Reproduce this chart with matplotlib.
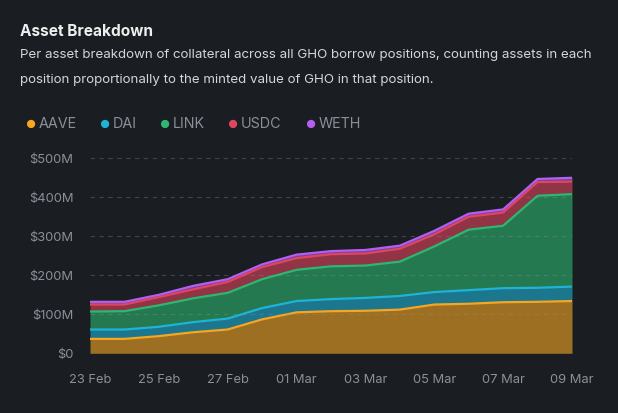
import matplotlib.pyplot as plt
import numpy as np

# dados (valores em milhões de USD por ativo)
dias = ['23 Feb', '24 Feb', '25 Feb', '26 Feb', '27 Feb', '28 Feb', '01 Mar', '02 Mar',
        '03 Mar', '04 Mar', '05 Mar', '06 Mar', '07 Mar', '08 Mar', '09 Mar']
aave = [37, 37, 44, 54, 61, 87, 105, 108, 109, 112, 125, 127, 131, 132, 134]
dai = [24, 24, 24, 26, 28, 29, 29, 31, 33, 35, 32, 35, 36, 36, 37]
link = [46, 47, 55, 61, 66, 74, 80, 84, 83, 88, 117, 155, 160, 236, 237]
usdc = [18, 17, 21, 23, 28, 31, 30, 31, 31, 33, 31, 33, 34, 35, 32]
weth = [7, 7, 6, 9, 7, 7, 9, 8, 9, 8, 9, 8, 8, 8, 10]

nomes = ['AAVE', 'DAI', 'LINK', 'USDC', 'WETH']
cores = ['#f5a623', '#1fb3d6', '#2db872', '#e0445f', '#b45ef2']

bg = '#1a1d21'
plt.rcParams['font.family'] = ['Inter', 'DejaVu Sans']
fig = plt.figure(figsize=(6.18, 4.13), dpi=100, facecolor=bg)

ax = fig.add_axes([90 / 618, 59.7 / 413, 482 / 618, 195 / 413])
ax.set_facecolor(bg)

x = np.arange(len(dias))
series = [aave, dai, link, usdc, weth]
base = np.zeros(len(dias))
for vals, cor in zip(series, cores):
    topo = base + np.array(vals)
    ax.fill_between(x, base, topo, color=cor, alpha=0.6, linewidth=0, zorder=2)
    ax.plot(x, topo, color=cor, linewidth=1.6, zorder=3)
    base = topo

# grade tracejada por cima das áreas
for v in range(0, 501, 100):
    ax.axhline(v, color='#8a9099', alpha=0.35, linewidth=0.8, linestyle=(0, (4, 4)), zorder=4)

ax.set_xlim(0, 14)
ax.set_ylim(0, 500)
ax.set_yticks(range(0, 501, 100))
ax.set_yticklabels(['$0', '$100M', '$200M', '$300M', '$400M', '$500M'])
ax.set_xticks(x[::2])
ax.set_xticklabels(dias[::2])
ax.tick_params(colors='#8a9099', labelsize=9.3, length=0)
ax.tick_params(axis='y', pad=12)
ax.tick_params(axis='x', pad=15)
for s in ax.spines.values():
    s.set_visible(False)

# título e subtítulo
fig.text(20 / 618, 1 - 31.5 / 413, 'Asset Breakdown', color='#eeeeee', fontsize=11.1,
         fontweight='bold', va='center')
fig.text(20 / 618, 1 - 55 / 413,
         'Per asset breakdown of collateral across all GHO borrow positions, counting assets in each',
         color='#d4d6d9', fontsize=9.6, va='center')
fig.text(20 / 618, 1 - 79.5 / 413,
         'position proportionally to the minted value of GHO in that position.',
         color='#d4d6d9', fontsize=9.6, va='center')

# legenda manual
pos_leg = [30, 104, 164, 232, 310]
for px, nome, cor in zip(pos_leg, nomes, cores):
    fig.text(px / 618, 1 - 124.5 / 413, '●', color=cor, fontsize=8, va='center', ha='center')
    fig.text((px + 9) / 618, 1 - 124.5 / 413, nome, color='#8a9099', fontsize=10.3, va='center')

plt.savefig('out.png', dpi=100, facecolor=bg)
